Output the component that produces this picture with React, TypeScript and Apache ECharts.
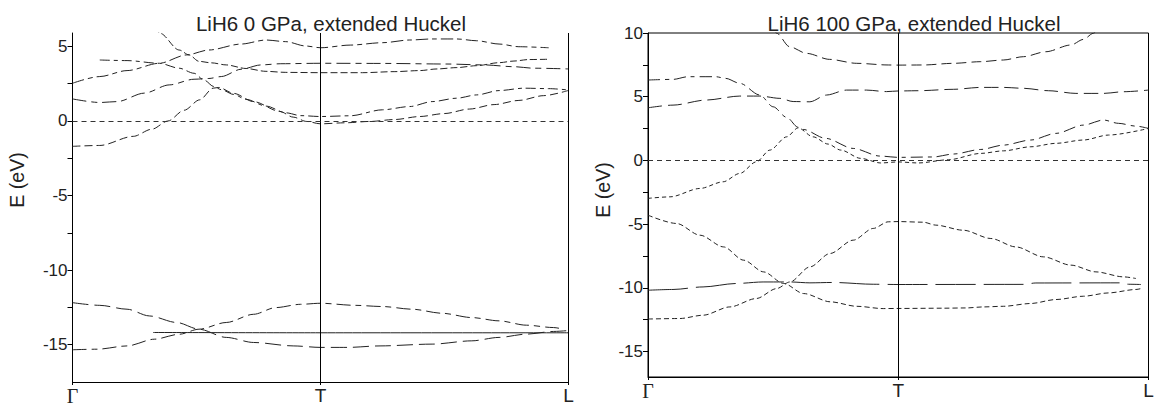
import React, { useEffect, useRef } from "react";
import * as echarts from "echarts";

// ---- k-path (Γ=0, T=1, L=2) ----
const kLabels = ["Γ", "T", "L"];
const kTicks = [0, 1, 2];

// ---- axis ticks ----
const yTicks0 = [-15, -12.5, -10, -7.5, -5, -2.5, 0, 2.5, 5];
const yLabels0 = [-15, -10, -5, 0, 5];
const yTicks100 = [-15, -12.5, -10, -7.5, -5, -2.5, 0, 2.5, 5, 7.5, 10];
const yLabels100 = [-15, -10, -5, 0, 5, 10];

// ---- LiH6 0 GPa bands [k, E(eV)] ----
const g0_R1 = [[0, 2.53], [0.11, 2.98], [0.22, 3.38], [0.35, 3.87], [0.46, 4.43], [0.55, 4.76], [0.68, 5.16], [0.78, 5.43], [0.86, 5.32], [0.94, 5.03], [1.0, 4.91], [1.12, 5.09], [1.25, 5.25], [1.36, 5.43], [1.45, 5.5], [1.55, 5.5], [1.63, 5.38], [1.72, 5.16], [1.8, 4.98], [1.92, 4.91]];
const g0_R2 = [[0, 1.48], [0.11, 1.24], [0.18, 1.3], [0.29, 1.87], [0.39, 2.42], [0.49, 2.8], [0.55, 2.85], [0.6, 2.98], [0.68, 3.47], [0.76, 3.76], [0.84, 3.84], [1.0, 3.87], [1.25, 3.86], [1.51, 3.82], [1.66, 3.76], [1.78, 3.64], [1.86, 3.54], [2.0, 3.49]];
const g0_D1 = [[0.33, 6.3], [0.353, 5.88], [0.43, 4.76], [0.47, 4.43], [0.51, 4.0], [0.56, 3.9], [0.62, 3.76], [0.7, 3.52], [0.78, 3.33], [0.86, 3.26], [1.0, 3.24], [1.17, 3.24], [1.3, 3.31], [1.4, 3.38], [1.47, 3.49], [1.55, 3.58], [1.63, 3.71], [1.72, 3.91], [1.78, 4.02], [1.84, 4.12], [1.92, 4.14]];
const g0_B = [[0.11, 4.09], [0.22, 4.05], [0.35, 3.87], [0.43, 3.54], [0.49, 3.2], [0.53, 2.75], [0.57, 2.31], [0.6, 2.1], [0.65, 1.78], [0.7, 1.45], [0.78, 1.0], [0.86, 0.55], [0.92, 0.36], [1.0, 0.3], [1.12, 0.35], [1.25, 0.75], [1.36, 0.97], [1.45, 1.3], [1.55, 1.53], [1.63, 1.75], [1.72, 2.04], [1.82, 2.2], [1.92, 2.17], [2.0, 2.08]];
const g0_A = [[0, -1.7], [0.11, -1.64], [0.245, -1.03], [0.32, -0.55], [0.385, 0], [0.45, 0.72], [0.513, 1.42], [0.567, 2.2], [0.59, 2.25], [0.65, 1.85], [0.73, 1.3], [0.836, 0.64], [0.89, 0.26], [0.944, -0.03], [1.0, -0.19], [1.1, -0.12], [1.2, -0.03], [1.3, 0.1], [1.4, 0.3], [1.5, 0.5], [1.6, 0.8], [1.7, 1.1], [1.8, 1.38], [1.9, 1.7], [2.0, 2.05]];
const g0_V1 = [[0, -15.34], [0.1, -15.3], [0.22, -15.08], [0.33, -14.63], [0.43, -14.3], [0.51, -13.96], [0.62, -13.51], [0.73, -12.96], [0.82, -12.51], [0.92, -12.29], [1.0, -12.22], [1.14, -12.36], [1.25, -12.44], [1.37, -12.62], [1.49, -12.89], [1.61, -13.18], [1.72, -13.4], [1.83, -13.69], [1.94, -13.85], [1.98, -13.96]];
const g0_V2 = [[0, -12.18], [0.11, -12.36], [0.22, -12.62], [0.31, -13.07], [0.42, -13.51], [0.51, -13.96], [0.62, -14.51], [0.73, -14.85], [0.89, -15.08], [1.0, -15.18], [1.11, -15.18], [1.24, -15.08], [1.45, -14.96], [1.61, -14.74], [1.72, -14.51], [1.83, -14.29], [1.94, -14.11], [2.0, -14.05]];
const g0_V3 = [[0.325, -14.18], [1.0, -14.2], [2.0, -14.2]];

// ---- LiH6 100 GPa bands [k, E(eV)] ----
const g100_U1 = [[0.5, 10.4], [0.514, 9.98], [0.566, 8.92], [0.634, 8.4], [0.726, 7.93], [0.834, 7.62], [0.96, 7.49], [1.0, 7.48], [1.1, 7.49], [1.22, 7.62], [1.33, 7.75], [1.42, 7.88], [1.5, 8.14], [1.59, 8.53], [1.69, 9.06], [1.74, 9.5], [1.78, 9.98], [1.8, 10.4]];
const g100_U2 = [[0, 6.31], [0.1, 6.36], [0.16, 6.57], [0.27, 6.57], [0.31, 6.44], [0.367, 6.05], [0.447, 5.13], [0.5, 4.21], [0.554, 3.38], [0.6, 2.6], [0.62, 2.43], [0.71, 1.73], [0.82, 0.94], [0.927, 0.34], [1.0, 0.24], [1.14, 0.27], [1.22, 0.5], [1.33, 0.86], [1.42, 1.2], [1.53, 1.6], [1.63, 2.12], [1.74, 2.77], [1.82, 3.17], [1.88, 2.91], [1.95, 2.69], [2.0, 2.51]];
const g100_R = [[0, -2.98], [0.088, -2.86], [0.208, -2.2], [0.3, -1.68], [0.367, -1.02], [0.433, -0.11], [0.487, 0.81], [0.554, 1.85], [0.6, 2.55], [0.66, 1.85], [0.72, 1.28], [0.77, 0.81], [0.85, 0.16], [0.93, -0.2], [1.0, -0.12], [1.08, -0.2], [1.2, 0.05], [1.33, 0.55], [1.42, 0.75], [1.53, 1.07], [1.63, 1.34], [1.74, 1.6], [1.84, 1.99], [2.0, 2.51]];
const g100_U4 = [[0, 4.13], [0.1, 4.34], [0.233, 4.74], [0.367, 5.05], [0.447, 5.05], [0.527, 4.87], [0.58, 4.62], [0.647, 4.6], [0.713, 5.13], [0.793, 5.52], [0.873, 5.52], [0.953, 5.4], [1.0, 5.45], [1.08, 5.47], [1.22, 5.58], [1.33, 5.73], [1.42, 5.73], [1.5, 5.66], [1.6, 5.47], [1.71, 5.26], [1.82, 5.26], [1.9, 5.39], [2.0, 5.52]];
const g100_V1 = [[0, -4.3], [0.114, -4.95], [0.208, -5.87], [0.302, -6.79], [0.382, -7.83], [0.462, -8.75], [0.542, -9.66], [0.622, -10.45], [0.729, -11.1], [0.834, -11.45], [0.94, -11.63], [1.0, -11.62], [1.18, -11.6], [1.27, -11.58], [1.34, -11.5], [1.42, -11.45], [1.53, -11.23], [1.63, -10.92], [1.74, -10.66], [1.84, -10.4], [1.95, -10.13], [1.97, -10.06]];
const g100_V2 = [[0, -12.45], [0.127, -12.41], [0.22, -12.15], [0.327, -11.5], [0.433, -10.84], [0.514, -10.06], [0.567, -9.54], [0.647, -8.36], [0.727, -7.31], [0.82, -6.26], [0.9, -5.34], [0.96, -4.82], [1.0, -4.8], [1.1, -4.85], [1.15, -5.08], [1.26, -5.48], [1.37, -6.13], [1.47, -6.79], [1.58, -7.57], [1.69, -8.22], [1.79, -8.75], [1.9, -9.14], [1.95, -9.27]];
const g100_V3 = [[0, -10.19], [0.1, -10.13], [0.22, -9.93], [0.353, -9.66], [0.46, -9.54], [0.567, -9.54], [0.647, -9.61], [0.74, -9.58], [0.9, -9.72], [1.0, -9.74], [1.5, -9.73], [1.55, -9.62], [1.89, -9.61], [1.92, -9.72], [1.97, -9.74]];

const FONT = "'Liberation Sans', Arial, sans-serif";
const INK = "#222";

function band(data: number[][], panel: number, dash: number[] | string, extra: any = {}) {
  return {
    type: "line",
    xAxisIndex: panel,
    yAxisIndex: panel,
    data,
    showSymbol: false,
    symbol: "none",
    smooth: 0.3,
    smoothMonotone: "x",
    silent: true,
    lineStyle: { color: INK, width: 1, type: dash },
    ...extra,
  };
}

function refLines(showL: boolean) {
  const data: any[] = [
    { xAxis: 1, lineStyle: { type: "solid", color: "#000", width: 1 } },
    { yAxis: 0, lineStyle: { type: [5, 4], color: "#333", width: 1 } },
  ];
  if (showL) data.push({ xAxis: 2, lineStyle: { type: "solid", color: "#000", width: 1 } });
  return { silent: true, symbol: "none", label: { show: false }, animation: false, data };
}

function xAxisCfg(gridIndex: number) {
  return {
    type: "value",
    gridIndex,
    min: 0,
    max: 2,
    axisLine: { show: true, onZero: false, lineStyle: { color: "#000", width: 1 } },
    axisTick: { show: true, customValues: kTicks, length: 3, lineStyle: { color: "#000" } },
    axisLabel: {
      customValues: kTicks,
      margin: 4,
      formatter: (v: number) => (v === 0 ? "{g|" + kLabels[0] + "}" : kLabels[Math.round(v)]),
      color: INK,
      fontSize: 19,
      fontFamily: FONT,
      rich: { g: { fontFamily: "'Liberation Serif', 'DejaVu Serif', serif", fontSize: 20, color: INK } },
    },
    splitLine: { show: false },
  };
}

function yAxisCfg(gridIndex: number, min: number, max: number, ticks: number[], labels: number[]) {
  return {
    type: "value",
    gridIndex,
    min,
    max,
    axisLine: { show: true, onZero: false, lineStyle: { color: "#000", width: 1 } },
    axisTick: { show: true, customValues: ticks, length: 5, lineStyle: { color: "#000" } },
    axisLabel: { customValues: labels, margin: 5, color: INK, fontSize: 17, fontFamily: FONT },
    splitLine: { show: false },
  };
}

export default function App() {
  const ref = useRef<HTMLDivElement>(null);
  useEffect(() => {
    if (!ref.current) return;
    const chart = echarts.init(ref.current, null, { renderer: "svg" });
    const titleStyle = { fontSize: 20.5, fontWeight: "normal", color: INK, fontFamily: FONT };
    chart.setOption({
      animation: false,
      backgroundColor: "#fff",
      title: [
        { text: "LiH6 0 GPa, extended Huckel", left: 326, top: 8, textAlign: "center", textStyle: titleStyle },
        { text: "LiH6 100 GPa, extended Huckel", left: 909, top: 8, textAlign: "center", textStyle: titleStyle },
      ],
      grid: [
        { left: 72.5, top: 33, width: 496, height: 350, containLabel: false },
        { left: 648, top: 33, width: 500.5, height: 344, containLabel: false, show: true, borderColor: "#000", borderWidth: 1, backgroundColor: "transparent" },
      ],
      xAxis: [xAxisCfg(0), xAxisCfg(1)],
      yAxis: [yAxisCfg(0, -17.5, 5.9, yTicks0, yLabels0), yAxisCfg(1, -17, 10, yTicks100, yLabels100)],
      graphic: [
        { type: "text", x: 17, y: 180, rotation: Math.PI / 2, style: { text: "E (eV)", font: "19.5px " + FONT, fill: INK, textAlign: "center", textVerticalAlign: "middle" } },
        { type: "text", x: 603, y: 190, rotation: Math.PI / 2, style: { text: "E (eV)", font: "19.5px " + FONT, fill: INK, textAlign: "center", textVerticalAlign: "middle" } },
      ],
      series: [
        band(g0_A, 0, [8, 4], { markLine: refLines(true) }),
        band(g0_B, 0, [10, 4, 4, 4]),
        band(g0_R1, 0, [12, 4, 5, 4]),
        band(g0_R2, 0, [14, 5, 6, 5]),
        band(g0_D1, 0, [7, 3]),
        band(g0_V1, 0, [14, 5, 6, 5]),
        band(g0_V2, 0, [16, 6]),
        band(g0_V3, 0, "solid"),
        band(g100_R, 1, [4, 3], { markLine: refLines(false) }),
        band(g100_U2, 1, [12, 5, 4, 5]),
        band(g100_U4, 1, [14, 6]),
        band(g100_U1, 1, [10, 5]),
        band(g100_V1, 1, [5, 3]),
        band(g100_V2, 1, [5, 3]),
        band(g100_V3, 1, [40, 8]),
      ],
    });
    return () => chart.dispose();
  }, []);
  return <div ref={ref} style={{ position: "fixed", left: 0, top: 0, width: 1159, height: 406 }} />;
}
